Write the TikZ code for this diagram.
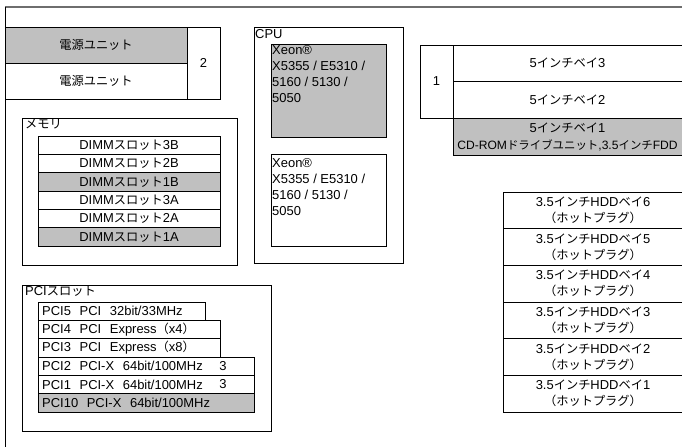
\documentclass[tikz,border=0pt]{standalone}
\usepackage{fontspec}
\setmainfont{Liberation Sans}[Scale=1.08]
\newfontfamily\jpfont{Noto Sans CJK JP}[Scale=1.02]
\newcommand{\jp}[1]{{\jpfont #1}}
\definecolor{slotgray}{RGB}{192,192,192}
\definecolor{framegray}{RGB}{110,110,110}
\usetikzlibrary{positioning}

\begin{document}
\begin{tikzpicture}[x=1pt, y=-1pt, node distance=18.33pt,
    every node/.style={font=\fontsize{12}{16}\selectfont},
    box/.style={draw, rectangle, inner sep=0pt},
    unit/.style={box, minimum width=182pt, minimum height=36pt},
    dimm/.style={box, minimum width=182pt, minimum height=18.33pt},
    bay/.style={box, minimum width=229pt, minimum height=36.67pt, align=center},
    hdd/.style={box, minimum width=180pt, minimum height=36.67pt, align=center},
    pci/.style={box, anchor=west, minimum height=18.33pt, inner xsep=4pt, text width=#1, align=left},
    group/.style={box},
    caption/.style={anchor=north west, inner sep=0pt},
    filled/.style={fill=slotgray}]
    \useasboundingbox (0,0) rectangle (682,447);

    % Frame
    \draw[framegray, line width=2pt] (5,7) -- (682,7);
    \draw (5,7) -- (5,447);

    % Power units
    \node[unit, filled] (psu1) at (96,45) {\jp{電源ユニット}};
    \node[unit] (psu2) [below of=psu1, node distance=36pt] {\jp{電源ユニット}};
    \node[box, minimum width=33pt, minimum height=72pt] (psun) at (203.5,63) {2};

    % CPU
    \node[group, minimum width=149pt, minimum height=236pt] (cpu) at (328.5,145) {};
    \node[caption] (cpulbl) at (255,29) {CPU};
    \node[box, filled, minimum width=115pt, minimum height=93pt] (cpu1) at (328.5,90.5) {};
    \node[caption, align=left] (cpu1txt) at (272,45) {Xeon®\\X5355 / E5310 /\\5160 / 5130 /\\5050};
    \node[box, minimum width=115pt, minimum height=92pt] (cpu2) at (328.5,200) {};
    \node[caption, align=left] (cpu2txt) at (272,158) {Xeon®\\X5355 / E5310 /\\5160 / 5130 /\\5050};

    % Memory
    \node[group, minimum width=215pt, minimum height=147pt] (mem) at (129.5,191.5) {};
    \node[caption] (memlbl) at (25,119) {\jp{メモリ}};
    \node[dimm] (d3B) at (129,145.2) {DIMM\jp{スロット}3B};
    \node[dimm] (d2B) [below of=d3B] {DIMM\jp{スロット}2B};
    \node[dimm, filled] (d1B) [below of=d2B] {DIMM\jp{スロット}1B};
    \node[dimm] (d3A) [below of=d1B] {DIMM\jp{スロット}3A};
    \node[dimm] (d2A) [below of=d3A] {DIMM\jp{スロット}2A};
    \node[dimm, filled] (d1A) [below of=d2A] {DIMM\jp{スロット}1A};

    % PCI slots
    \node[group, minimum width=249pt, minimum height=146pt] (pcis) at (146.5,358) {};
    \node[caption] (pcilbl) at (25,286) {PCI\jp{スロット}};
    \node[pci=159pt] (p5) at (38,311.2) {PCI5\ \ PCI\ \ 32bit/33MHz};
    \node[pci=174pt] (p4) at (38,329.5) {PCI4\ \ PCI\ \ Express\jp{（}x4\jp{）}};
    \node[pci=174pt] (p3) at (38,347.8) {PCI3\ \ PCI\ \ Express\jp{（}x8\jp{）}};
    \node[pci=208pt] (p2) at (38,366.2) {PCI2\ \ PCI-X\ \ 64bit/100MHz};
    \node[pci=208pt] (p1) at (38,384.5) {PCI1\ \ PCI-X\ \ 64bit/100MHz};
    \node[pci=208pt, filled] (p10) at (38,402.8) {PCI10\ \ PCI-X\ \ 64bit/100MHz};
    \node (p2n) at (223,366.2) {3};
    \node (p1n) at (223,384.5) {3};

    % 5 inch bays
    \node[box, minimum width=33pt, minimum height=73pt] (bayn) at (436.5,81.5) {1};
    \node[bay] (b3) at (567.5,63.3) {5\jp{インチベイ}3};
    \node[bay] (b2) [below of=b3, node distance=36.67pt] {5\jp{インチベイ}2};
    \node[bay, filled, font=\fontsize{12}{17}\selectfont] (b1) [below of=b2, node distance=36.67pt] {5\jp{インチベイ}1\\{\fontsize{11.2}{17}\selectfont CD-ROM\jp{ドライブユニット},3.5\jp{インチ}FDD}};

    % HDD bays
    \node[hdd] (h6) at (593,210.3) {3.5\jp{インチ}HDD\jp{ベイ}6\\\jp{（ホットプラグ）}};
    \node[hdd] (h5) [below of=h6, node distance=36.67pt] {3.5\jp{インチ}HDD\jp{ベイ}5\\\jp{（ホットプラグ）}};
    \node[hdd] (h4) [below of=h5, node distance=36.67pt] {3.5\jp{インチ}HDD\jp{ベイ}4\\\jp{（ホットプラグ）}};
    \node[hdd] (h3) [below of=h4, node distance=36.67pt] {3.5\jp{インチ}HDD\jp{ベイ}3\\\jp{（ホットプラグ）}};
    \node[hdd] (h2) [below of=h3, node distance=36.67pt] {3.5\jp{インチ}HDD\jp{ベイ}2\\\jp{（ホットプラグ）}};
    \node[hdd] (h1) [below of=h2, node distance=36.67pt] {3.5\jp{インチ}HDD\jp{ベイ}1\\\jp{（ホットプラグ）}};
\end{tikzpicture}
\end{document}
